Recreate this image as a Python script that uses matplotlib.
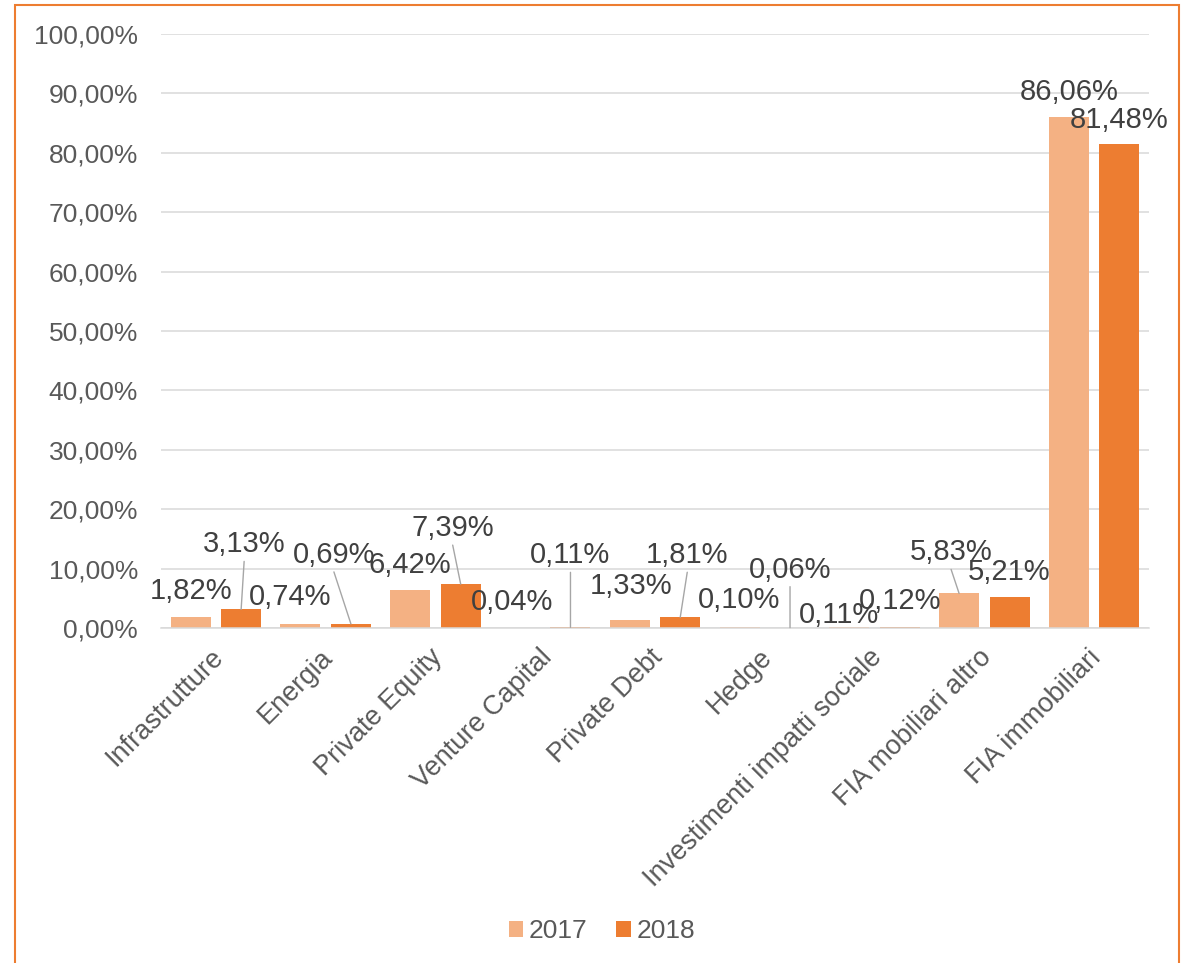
import numpy as np
import matplotlib
matplotlib.use("Agg")
import matplotlib.pyplot as plt
from matplotlib.patches import Rectangle

plt.rcParams['font.family'] = ['Liberation Sans', 'DejaVu Sans']

categories = ['Infrastrutture', 'Energia', 'Private Equity', 'Venture Capital', 'Private Debt',
              'Hedge', 'Investimenti impatti sociale', 'FIA mobiliari altro', 'FIA immobiliari']
v2017 = [1.82, 0.74, 6.42, 0.04, 1.33, 0.10, 0.11, 5.83, 86.06]
v2018 = [3.13, 0.69, 7.39, 0.11, 1.81, 0.06, 0.12, 5.21, 81.48]
years = ['2017', '2018']

# label placement (pixels: dx, baseline height above bar top), and leader flags
off2017 = [(0, 18), (-10, 19), (0, 17), (-8, 18), (1, 26), (0, 19), (-10, 4), (-8, 33), (0, 17)]
off2018 = [(3, 57), (-17, 61), (-8, 48), (0, 64), (7, 54), (0, 50), (0, 18), (0, 17), (0, 16)]
lead2017 = [False, False, False, False, False, False, False, True, False]
lead2018 = [True, True, True, True, True, True, False, False, False]

c17 = '#F4B183'
c18 = '#ED7D31'
txt = '#404040'
tick_c = '#595959'

fig = plt.figure(figsize=(11.94, 9.63), dpi=100)
ax = fig.add_axes([161 / 1194, 1 - 628 / 963, 988 / 1194, 594 / 963])

x = np.arange(len(categories))
w = 0.364
d = 0.23
ax.bar(x - d, v2017, w, color=c17, label=years[0], zorder=2)
ax.bar(x + d, v2018, w, color=c18, label=years[1], zorder=2)

ax.set_xlim(-0.5, len(categories) - 0.5)
ax.set_ylim(0, 100)
ax.set_yticks(np.arange(0, 101, 10))
ax.set_yticklabels([f"{t:.2f}%".replace('.', ',') for t in np.arange(0, 101, 10)])
ax.grid(axis='y', color='#D9D9D9', lw=1.1, zorder=0)
ax.set_axisbelow(True)
for s in ['top', 'right', 'left']:
    ax.spines[s].set_visible(False)
ax.spines['bottom'].set_color('#D9D9D9')
ax.spines['bottom'].set_linewidth(1.1)
ax.tick_params(axis='y', length=0, pad=16.5, labelsize=19, labelcolor=tick_c)
ax.tick_params(axis='x', length=0, pad=0, labelsize=19.5, labelcolor=tick_c)
for lbl in ax.get_yticklabels():
    lbl.set_verticalalignment('center_baseline')

ax.set_xticks(x + 0.03)
ax.set_xticklabels(categories, rotation=45, ha='right', va='center',
                   rotation_mode='anchor')
for lbl in ax.get_xticklabels():
    lbl.set_y(-0.043)

def put_labels(xs, vals, offs, leads):
    for xi, v, (dx, dy), ld in zip(xs, vals, offs, leads):
        ax.annotate(f"{v:.2f}%".replace('.', ','), xy=(xi, v), xytext=(dx, dy),
                    textcoords='offset pixels', ha='center', va='baseline',
                    fontsize=21, color=txt, zorder=4)
        if ld:
            ax.annotate('', xy=(xi, v), xytext=(dx, dy - 9), textcoords='offset pixels',
                        arrowprops=dict(arrowstyle='-', color='#A6A6A6', lw=1,
                                        shrinkA=0, shrinkB=0), zorder=3)

put_labels(x - d, v2017, off2017, lead2017)
put_labels(x + d, v2018, off2018, lead2018)

fig.legend(loc='center', bbox_to_anchor=(0.504, 1 - 931 / 963), ncol=2, frameon=False,
           fontsize=19, handlelength=0.55, handleheight=0.55, handletextpad=0.2,
           columnspacing=1.1, labelcolor=tick_c)

fig.patches.append(Rectangle((15 / 1194, -0.05), (1179 - 15) / 1194, 1.05 - 5 / 963,
                             transform=fig.transFigure, fill=False, edgecolor=c18,
                             lw=1.5, zorder=10))

fig.savefig("out.png", dpi=100)
